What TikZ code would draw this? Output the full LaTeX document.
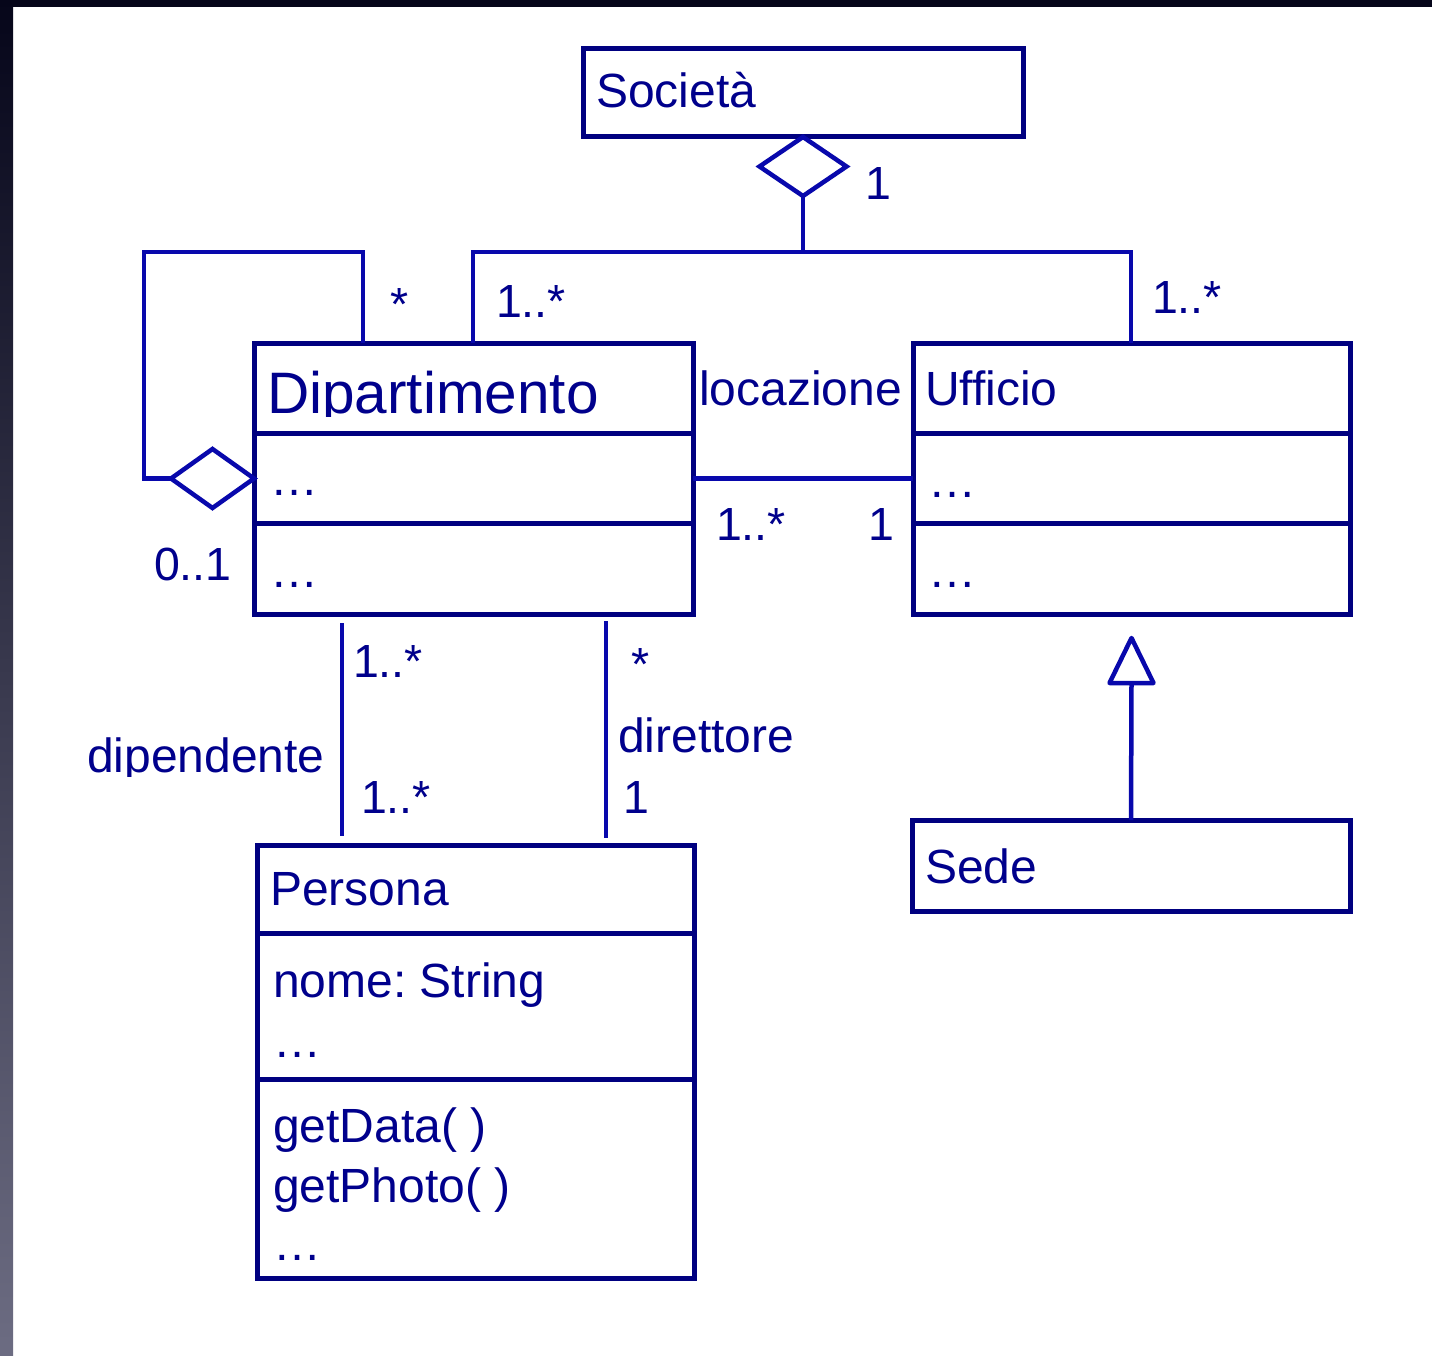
\documentclass[tikz,border=0pt]{standalone}
\usepackage{fontspec}
\setmainfont{Liberation Sans}
\usetikzlibrary{calc,shapes.geometric}
\definecolor{boxc}{RGB}{0,0,128}
\definecolor{linec}{RGB}{8,8,172}
\definecolor{txtc}{RGB}{0,0,140}
\definecolor{frtop}{RGB}{6,6,26}
\definecolor{frbot}{RGB}{108,108,130}
\frenchspacing
\begin{document}
\begin{tikzpicture}[x=1pt,y=-1pt,
  classbox/.style={draw=boxc, line width=5pt, rectangle, inner sep=0pt, outer sep=0pt, anchor=north west},
  boxline/.style={draw=boxc, line width=5pt},
  conn/.style={draw=linec, line width=4.5pt},
  lbl/.style={anchor=base west, inner sep=0pt, outer sep=0pt, text=txtc, font=\fontsize{48}{56}\selectfont},
  mult/.style={lbl, font=\fontsize{46.5}{54}\selectfont},
  big/.style={lbl, font=\fontsize{58.5}{66}\selectfont},
  aggd/.style={diamond, draw=linec, line width=4.5pt, inner sep=0pt, outer sep=0pt, fill=white}
]
\useasboundingbox (0,0) rectangle (1432,1356);
\fill[white] (0,0) rectangle (1432,1356);
\shade[top color=frtop, bottom color=frbot] (0,0) rectangle (13,1356);
\fill[frtop] (0,0) rectangle (1432,7);

% classes
\node[classbox, minimum width=440pt, minimum height=88pt] (soc) at (583,49) {};
\node[classbox, minimum width=439pt, minimum height=271pt] (dip) at (254,343) {};
\node[classbox, minimum width=437pt, minimum height=271pt] (uff) at (913,343) {};
\node[classbox, minimum width=437pt, minimum height=433pt] (per) at (257,845) {};
\node[classbox, minimum width=438pt, minimum height=91pt] (sede) at (912,820) {};

% compartments
\draw[boxline] ([yshift=-90pt]dip.north west) -- ([yshift=-90pt]dip.north east);
\draw[boxline] ([yshift=-180.5pt]dip.north west) -- ([yshift=-180.5pt]dip.north east);
\draw[boxline] ([yshift=-90pt]uff.north west) -- ([yshift=-90pt]uff.north east);
\draw[boxline] ([yshift=-180.5pt]uff.north west) -- ([yshift=-180.5pt]uff.north east);
\draw[boxline] ([yshift=-88pt]per.north west) -- ([yshift=-88pt]per.north east);
\draw[boxline] ([yshift=-234pt]per.north west) -- ([yshift=-234pt]per.north east);

% aggregation Societa
\node[aggd, minimum width=87pt, minimum height=59pt, anchor=north] (agg1) at (soc.south) {};
\coordinate (tj) at (803,252);
\draw[conn] (agg1.south) -- (tj);
\draw[conn] ($(dip.north west)+(219,0)$) |- (tj) -| ($(uff.north west)+(218,0)$);

% self aggregation
\node[aggd, minimum width=83pt, minimum height=59pt, anchor=east] (agg2) at (dip.west) {};
\coordinate (lp) at (144,252);
\draw[conn] ($(dip.north west)+(109,0)$) |- (lp) |- (agg2.west);

% locazione
\draw[conn] (dip.east) -- (uff.west);

% dipendente / direttore
\draw[conn] ($(dip.south west)+(88,9)$) -- ($(per.north west)+(85,-9)$);
\draw[conn] ($(dip.south west)+(352,7)$) -- ($(per.north west)+(349,-7)$);

% generalization
\coordinate (apex) at ($(uff.south)+(0,24)$);
\draw[conn] (sede.north) -- ($(apex)+(0,45)$);
\draw[conn, line join=round] (apex) -- ++(22,45) -- ++(-44,0) -- cycle;

% texts
\node[lbl] (tsoc) at (596,108) {Società};
\node[mult] (m1) at (865,200) {1};
\node[mult] (m2) at (390,320) {*};
\node[mult] (m3) at (496,317) {1..*};
\node[mult] (m4) at (1152,313) {1..*};
\begin{scope}
\clip (254,343) rectangle (693,416);
\node[big] (tdip) at (267,413) {Dipartimento};
\end{scope}
\node[lbl] (d1) at (270,495) {…};
\node[lbl] (d2) at (270,587) {…};
\node[lbl] (tloc) at (699,405) {locazione};
\node[mult] (m5) at (716,540) {1..*};
\node[mult] (m6) at (868,540) {1};
\node[lbl] (tuff) at (925,405) {Ufficio};
\node[lbl] (u1) at (928,497) {…};
\node[lbl] (u2) at (928,587) {…};
\node[mult] (m7) at (154,580) {0..1};
\node[mult] (m8) at (353,677) {1..*};
\begin{scope}
\clip (80,700) rectangle (335,776);
\node[lbl] (tdipend) at (87,772) {dipendente};
\end{scope}
\node[mult] (m9) at (361,813) {1..*};
\node[mult] (m10) at (631,680) {*};
\node[lbl] (tdir) at (618,752) {direttore};
\node[mult] (m11) at (623,813) {1};
\node[lbl] (tper) at (270,905) {Persona};
\node[lbl] (p1) at (273,997) {nome: String};
\node[lbl] (p2) at (273,1057) {…};
\node[lbl] (p3) at (273,1142) {getData( )};
\node[lbl] (p4) at (273,1202) {getPhoto( )};
\node[lbl] (p5) at (273,1260) {…};
\node[lbl] (tsede) at (925,883) {Sede};
\end{tikzpicture}
\end{document}
